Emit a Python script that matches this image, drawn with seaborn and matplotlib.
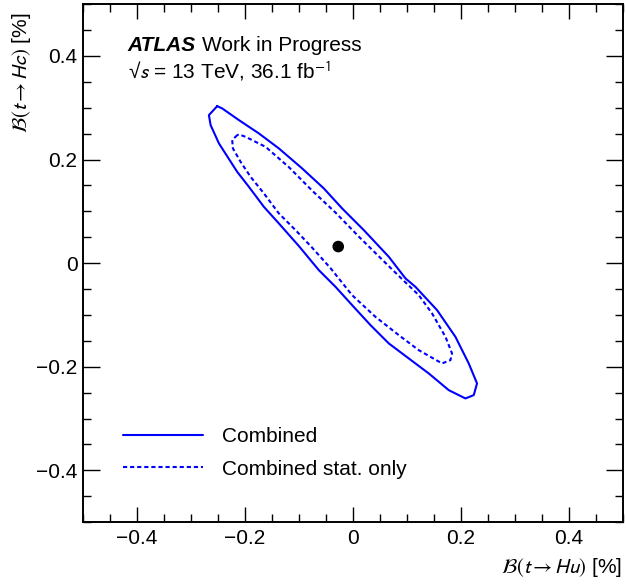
"""
2D likelihood contours in the B(t->Hu) vs B(t->Hc) plane, ATLAS style.
"""
import numpy as np
import pandas as pd
import matplotlib
matplotlib.use("Agg")
import matplotlib.pyplot as plt
from matplotlib.ticker import MultipleLocator, FuncFormatter
import seaborn as sns

# contour vertices (units: %)
comb_x = [-0.2513, -0.2667, -0.2635, -0.2481, -0.2143, -0.1926, -0.1648, -0.1370,
          -0.1000, -0.0630, -0.0320, -0.0013, 0.0328, 0.0667, 0.1037, 0.1407,
          0.1778, 0.2087, 0.2241, 0.2302, 0.2148, 0.1902, 0.1561, 0.1161,
          0.0976, 0.0667, 0.0204, -0.0198, -0.0537, -0.0939, -0.1370, -0.1741,
          -0.2111, -0.2420]
comb_y = [0.3031, 0.2857, 0.2664, 0.2311, 0.1763, 0.1473, 0.1087, 0.0766,
          0.0330, -0.0135, -0.0458, -0.0811, -0.1197, -0.1550, -0.1840, -0.2129,
          -0.2452, -0.2612, -0.2548, -0.2322, -0.1936, -0.1423, -0.0907, -0.0458,
          -0.0295, 0.0122, 0.0637, 0.1056, 0.1442, 0.1828, 0.2214, 0.2504,
          0.2761, 0.2986]

stat_x = [-0.2143, -0.2235, -0.2222, -0.2080, -0.1894, -0.1648, -0.1370, -0.1061,
          -0.0754, -0.0413, -0.0013, 0.0420, 0.0852, 0.1222, 0.1654, 0.1809,
          0.1839, 0.1717, 0.1469, 0.1222, 0.0913, 0.0543, 0.0111, -0.0320,
          -0.0754, -0.1185, -0.1617, -0.1987, -0.2111]
stat_y = [0.2471, 0.2375, 0.2214, 0.1956, 0.1666, 0.1346, 0.0959, 0.0637,
          0.0299, -0.0097, -0.0618, -0.1037, -0.1390, -0.1680, -0.1936, -0.1873,
          -0.1743, -0.1423, -0.0971, -0.0618, -0.0309, 0.0068, 0.0512, 0.0975,
          0.1400, 0.1853, 0.2245, 0.2438, 0.2485]

best_x = [-0.027]
best_y = [0.032]

labels = ["Combined", "Combined stat. only"]

sns.set_theme(style="ticks")
plt.rcParams["font.family"] = ["Liberation Sans", "DejaVu Sans"]
plt.rcParams["mathtext.fontset"] = "stixsans"
plt.rcParams["text.color"] = "black"
plt.rcParams["axes.labelcolor"] = "black"

BLUE = "#0000ff"
FS = 15


def closed(xs, ys):
    return pd.DataFrame({"x": list(xs) + [xs[0]], "y": list(ys) + [ys[0]]})


fig = plt.figure(figsize=(6.26, 5.88), dpi=100)
ax = fig.add_axes([0.1326, 0.112, 0.862, 0.881])

sns.lineplot(data=closed(comb_x, comb_y), x="x", y="y", sort=False, estimator=None,
             color=BLUE, lw=1.5, label=labels[0], ax=ax)
sns.lineplot(data=closed(stat_x, stat_y), x="x", y="y", sort=False, estimator=None,
             color=BLUE, lw=1.5, linestyle=(0, (2, 1.4)), label=labels[1], ax=ax)
sns.scatterplot(x=best_x, y=best_y, color="black", s=70, edgecolor="none", ax=ax)

ax.set_xlim(-0.5, 0.5)
ax.set_ylim(-0.5, 0.5)
fmt = FuncFormatter(lambda v, _: "0" if abs(v) < 1e-9 else f"{v:.1f}".replace("-", "\u2212"))
for axis in (ax.xaxis, ax.yaxis):
    axis.set_major_locator(MultipleLocator(0.2))
    axis.set_minor_locator(MultipleLocator(0.05))
    axis.set_major_formatter(fmt)
ax.tick_params(which="both", direction="in", top=True, right=True,
               labelsize=FS, colors="black", width=1.0)
ax.tick_params(axis="x", which="major", length=11, pad=5)
ax.tick_params(axis="x", which="minor", length=5.5)
ax.tick_params(axis="y", which="major", length=12, pad=4)
ax.tick_params(axis="y", which="minor", length=6)
for sp in ax.spines.values():
    sp.set_linewidth(1.4)
    sp.set_color("black")

ax.set_xlabel(r"$\mathcal{B}(t \rightarrow Hu)$ [%]", fontsize=FS, loc="right", labelpad=6)
ax.set_ylabel(r"$\mathcal{B}(t \rightarrow Hc)$ [%]", fontsize=FS, loc="top")
ax.yaxis.set_label_coords(-0.0926, 0.983)

ax.text(0.083, 0.909, "ATLAS", transform=ax.transAxes, fontsize=FS,
        fontweight="bold", fontstyle="italic", va="baseline")
ax.text(0.2198, 0.909, "Work in Progress", transform=ax.transAxes, fontsize=FS,
        va="baseline")
ax.text(0.083, 0.857, "\u221a$s$ = 13 TeV, 36.1 fb$^{-1}$", transform=ax.transAxes,
        fontsize=FS, va="baseline")

ax.legend(frameon=False, loc="upper left", bbox_to_anchor=(0.074, 0.183),
          borderpad=0, borderaxespad=0, handlelength=3.84, handletextpad=0.91,
          labelspacing=0.64, fontsize=FS)

fig.savefig("out.png", dpi=100)
